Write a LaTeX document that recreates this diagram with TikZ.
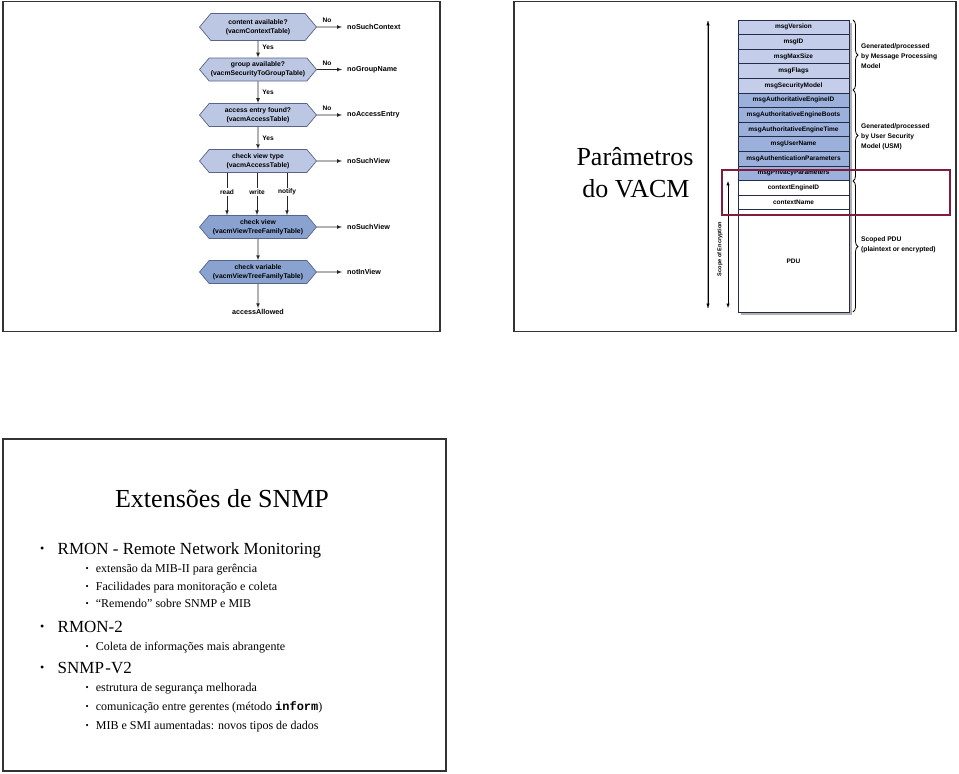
\documentclass[tikz,border=0pt]{standalone}
\usepackage{fontspec}
\setmainfont{Liberation Serif}
\setsansfont{Liberation Sans}
\setmonofont{Liberation Mono}
\usetikzlibrary{arrows,%
	shapes.symbols,%
	decorations.pathreplacing}
\definecolor{hexlight}{RGB}{188,199,228}
\definecolor{hexdark}{RGB}{138,162,208}
\definecolor{hexline}{RGB}{90,100,136}
\definecolor{stacklight}{RGB}{196,206,234}
\definecolor{stackmid}{RGB}{156,176,220}
\definecolor{stackline}{RGB}{36,44,76}
\definecolor{markred}{RGB}{130,28,62}

\begin{document}
\begin{tikzpicture}[x=1pt,y=-1pt,
	slide_frame/.style={draw=black!80,line width=1.6pt},
	hex_node/.style={shape=signal,signal to=east and west,signal pointer angle=100,draw=hexline,fill=hexlight,line width=0.7pt,minimum width=117pt,minimum height=23pt,inner xsep=0.5pt,inner ysep=1pt,align=center,font=\sffamily\bfseries\fontsize{6.8}{9.2}\selectfont},
	hex_dark/.style={hex_node,fill=hexdark},
	out_label/.style={anchor=west,inner xsep=5pt,inner ysep=1pt,font=\sffamily\bfseries\fontsize{7.2}{8}\selectfont},
	yn_label/.style={inner sep=1pt,font=\sffamily\bfseries\fontsize{6.6}{7}\selectfont},
	flow_arrow/.style={-latex,line width=0.7pt,black!85},
	flow_line/.style={line width=0.7pt,black!85},
	stack_row/.style={draw=stackline,line width=0.8pt,minimum width=111pt,minimum height=14.6pt,inner sep=0pt,font=\sffamily\bfseries\fontsize{6.5}{7}\selectfont},
	brace_line/.style={decorate,decoration={brace,amplitude=5pt},line width=0.8pt},
	brace_label/.style={anchor=west,align=left,inner sep=0pt,font=\sffamily\bfseries\fontsize{6.7}{10}\selectfont},
	param_text/.style={anchor=base,inner sep=0pt,font=\fontsize{26}{30}\selectfont},
	title_text/.style={anchor=base,inner sep=0pt,font=\fontsize{26}{30}\selectfont},
	item_one/.style={anchor=base west,inner sep=0pt,font=\fontsize{17}{20}\selectfont},
	item_two/.style={anchor=base west,inner sep=0pt,font=\fontsize{12}{14}\selectfont}]

	\useasboundingbox (0,0) rectangle (959,774);
	\fill[white] (0,0) rectangle (959,774);

	\draw[slide_frame] (3,1.5) rectangle (440,331.5);
	\draw[slide_frame] (514,1.5) rectangle (956,331.5);
	\draw[slide_frame] (3,439) rectangle (446,771);

	\node[hex_node,minimum height=27pt] (ctx_q) at (258,27) {content available?\\(vacmContextTable)};
	\node[hex_node] (grp_q) at (258,69.5) {group available?\\(vacmSecurityToGroupTable)};
	\node[hex_node] (acc_q) at (258,115) {access entry found?\\(vacmAccessTable)};
	\node[hex_node] (type_q) at (258,161) {check view type\\(vacmAccessTable)};
	\node[hex_dark] (view_q) at (258,227) {check view\\(vacmViewTreeFamilyTable)};
	\node[hex_dark] (var_q) at (258,272) {check variable\\(vacmViewTreeFamilyTable)};

	\node[out_label] (no_ctx) at (342,27) {noSuchContext};
	\node[out_label] (no_grp) at (342,69.5) {noGroupName};
	\node[out_label] (no_acc) at (342,115) {noAccessEntry};
	\node[out_label] (no_view1) at (342,161) {noSuchView};
	\node[out_label] (no_view2) at (342,227) {noSuchView};
	\node[out_label] (not_in) at (342,272) {notInView};
	\node[out_label,anchor=center] (allowed) at (258,312) {accessAllowed};

	\node[yn_label] (no1) at (327,20) {No};
	\node[yn_label] (no2) at (327,63) {No};
	\node[yn_label] (no3) at (327,108) {No};
	\node[yn_label] (yes1) at (268,47) {Yes};
	\node[yn_label] (yes2) at (268,92) {Yes};
	\node[yn_label] (yes3) at (268,138) {Yes};
	\node[yn_label] (rd) at (227,192) {read};
	\node[yn_label] (wr) at (257,192) {write};
	\node[yn_label] (nt) at (287,192) {notify};

	\draw[flow_arrow] (ctx_q) -- (grp_q);
	\draw[flow_arrow] (grp_q) -- (acc_q);
	\draw[flow_arrow] (acc_q) -- (type_q);
	\draw[flow_line] (type_q.south -| rd) -- (rd);
	\draw[flow_line] (type_q.south -| wr) -- (wr);
	\draw[flow_line] (type_q.south -| nt) -- (nt);
	\draw[flow_arrow] (rd) -- (view_q.north -| rd);
	\draw[flow_arrow] (wr) -- (view_q.north -| wr);
	\draw[flow_arrow] (nt) -- (view_q.north -| nt);
	\draw[flow_arrow] (view_q) -- (var_q);
	\draw[flow_arrow] (var_q) -- (allowed);
	\draw[flow_arrow] (ctx_q) -- (no_ctx);
	\draw[flow_arrow] (grp_q) -- (no_grp);
	\draw[flow_arrow] (acc_q) -- (no_acc);
	\draw[flow_arrow] (type_q) -- (no_view1);
	\draw[flow_arrow] (view_q) -- (no_view2);
	\draw[flow_arrow] (var_q) -- (not_in);

	\node[param_text] (param_a) at (635,165) {Parâmetros};
	\node[param_text] (param_b) at (636,197) {do VACM};

	\coordinate (auth_top) at (708,21);
	\coordinate (auth_bot) at (708,308);
	\coordinate (enc_top) at (728,181);
	\coordinate (enc_bot) at (728,308);
	\draw[line width=2.6pt,black!35] (auth_top) -- (auth_bot);
	\draw[latex-latex,line width=0.5pt] (auth_top) -- (auth_bot);
	\draw[latex-latex,line width=0.5pt] (enc_top) -- (enc_bot);
	\node[rotate=90,inner sep=0pt,font=\sffamily\bfseries\fontsize{5.6}{6}\selectfont] (enc_label) at (720,249) {Scope of Encryption};

	\fill[black!30] (741,23) rectangle (852,314.5);

	\node[stack_row,fill=stacklight] (r_version) at (793.5,27.3) {msgVersion};
	\node[stack_row,fill=stacklight] (r_id) at (793.5,41.9) {msgID};
	\node[stack_row,fill=stacklight] (r_maxsize) at (793.5,56.5) {msgMaxSize};
	\node[stack_row,fill=stacklight] (r_flags) at (793.5,71.1) {msgFlags};
	\node[stack_row,fill=stacklight] (r_secmodel) at (793.5,85.7) {msgSecurityModel};
	\node[stack_row,fill=stackmid] (r_engid) at (793.5,100.3) {msgAuthoritativeEngineID};
	\node[stack_row,fill=stackmid] (r_boots) at (793.5,114.9) {msgAuthoritativeEngineBoots};
	\node[stack_row,fill=stackmid] (r_time) at (793.5,129.5) {msgAuthoritativeEngineTime};
	\node[stack_row,fill=stackmid] (r_user) at (793.5,144.1) {msgUserName};
	\node[stack_row,fill=stackmid] (r_authpar) at (793.5,158.7) {msgAuthenticationParameters};
	\node[stack_row,fill=stackmid] (r_privpar) at (793.5,173.3) {msgPrivacyParameters};
	\node[stack_row,fill=white] (r_ctxeng) at (793.5,187.9) {contextEngineID};
	\node[stack_row,fill=white] (r_ctxname) at (793.5,202.5) {contextName};
	\node[stack_row,fill=white,minimum height=102.2pt] (r_pdu) at (793.5,260.9) {PDU};

	\coordinate (mpm_top) at (853,20);
	\coordinate (mpm_bot) at (853,90);
	\coordinate (usm_top) at (853,90);
	\coordinate (usm_bot) at (853,181);
	\coordinate (pdu_top) at (853,181);
	\coordinate (pdu_bot) at (853,312);
	\draw[brace_line] (mpm_top) -- (mpm_bot);
	\draw[brace_line] (usm_top) -- (usm_bot);
	\draw[brace_line] (pdu_top) -- (pdu_bot);
	\node[brace_label] (mpm_label) at (861,56.5) {Generated/processed\\by Message Processing\\Model};
	\node[brace_label] (usm_label) at (861,137) {Generated/processed\\by User Security\\Model (USM)};
	\node[brace_label] (pdu_label) at (861,244.5) {Scoped PDU\\(plaintext or encrypted)};

	\draw[markred,line width=1.3pt] (722,170) rectangle (950,215);

	\node[title_text] (ext_title) at (222,507) {Extensões de SNMP};
	\node[item_one] (rmon) at (40,554) {\makebox[17.5pt][l]{\fontsize{12}{12}\selectfont\raisebox{1.8pt}{\textbullet}}RMON - Remote Network Monitoring};
	\node[item_two] (rmon_a) at (85.5,572) {\makebox[10.2pt][l]{\fontsize{9}{9}\selectfont\raisebox{1pt}{\textbullet}}extensão da MIB-II para gerência};
	\node[item_two] (rmon_b) at (85.5,590) {\makebox[10.2pt][l]{\fontsize{9}{9}\selectfont\raisebox{1pt}{\textbullet}}Facilidades para monitoração e coleta};
	\node[item_two] (rmon_c) at (85.5,607) {\makebox[10.2pt][l]{\fontsize{9}{9}\selectfont\raisebox{1pt}{\textbullet}}“Remendo” sobre SNMP e MIB};
	\node[item_one] (rmon2) at (40,632) {\makebox[17.5pt][l]{\fontsize{12}{12}\selectfont\raisebox{1.8pt}{\textbullet}}RMON-2};
	\node[item_two] (rmon2_a) at (85.5,650) {\makebox[10.2pt][l]{\fontsize{9}{9}\selectfont\raisebox{1pt}{\textbullet}}Coleta de informações mais abrangente};
	\node[item_one] (snmpv2) at (40,673) {\makebox[17.5pt][l]{\fontsize{12}{12}\selectfont\raisebox{1.8pt}{\textbullet}}SNMP\kern1.5pt-V2};
	\node[item_two] (snmpv2_a) at (85.5,691) {\makebox[10.2pt][l]{\fontsize{9}{9}\selectfont\raisebox{1pt}{\textbullet}}estrutura de segurança melhorada};
	\node[item_two] (snmpv2_b) at (85.5,710) {\makebox[10.2pt][l]{\fontsize{9}{9}\selectfont\raisebox{1pt}{\textbullet}}comunicação entre gerentes (método {\ttfamily\bfseries inform})};
	\node[item_two] (snmpv2_c) at (85.5,729) {\makebox[10.2pt][l]{\fontsize{9}{9}\selectfont\raisebox{1pt}{\textbullet}}MIB e SMI aumentadas: novos tipos de dados};
\end{tikzpicture}
\end{document}
